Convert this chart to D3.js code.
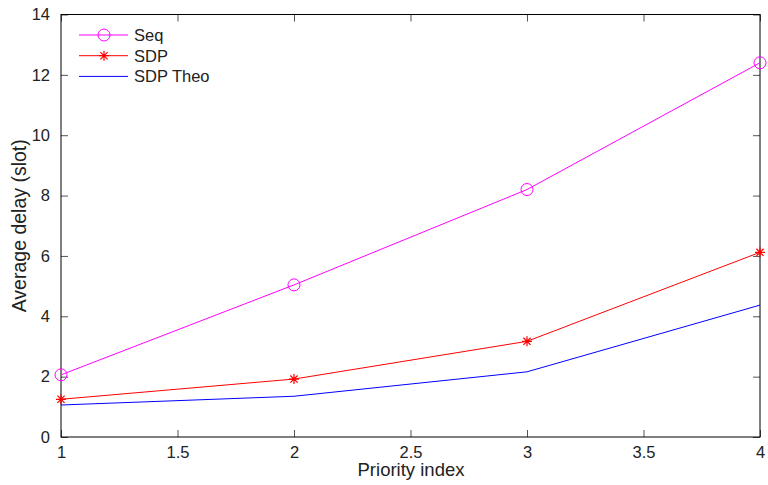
<!DOCTYPE html>
<html><head><meta charset="utf-8">
<script src="https://cdn.jsdelivr.net/npm/d3@7"></script>
<style>body{margin:0;background:#fff}svg{display:block}text{font-family:"Liberation Sans",Arial,sans-serif;fill:#222}</style>
</head><body><svg id="c" width="768" height="485"></svg>
<script>
const priority = [1, 2, 3, 4];
const seq = [2.06, 5.04, 8.2, 12.4];
const sdp = [1.25, 1.92, 3.17, 6.12];
const sdpTheo = [1.06, 1.35, 2.16, 4.37];
const xTicks = [1, 1.5, 2, 2.5, 3, 3.5, 4];
const yTicks = [0, 2, 4, 6, 8, 10, 12, 14];
const seriesNames = ["Seq", "SDP", "SDP Theo"];

const svg = d3.select("#c");
const L = 61, R = 760, T = 14.5, B = 437;
const x = d3.scaleLinear().domain([1, 4]).range([L, R]);
const y = d3.scaleLinear().domain([0, 14]).range([B, T]);

const tickLen = 7;
const gx = svg.append("g").attr("transform", `translate(0,${B})`)
  .call(d3.axisBottom(x).tickValues(xTicks).tickSize(-tickLen).tickPadding(tickLen + 2).tickFormat(d3.format("")));
const gxt = svg.append("g").attr("transform", `translate(0,${T})`)
  .call(d3.axisTop(x).tickValues(xTicks).tickSize(-tickLen).tickFormat(""));
const gy = svg.append("g").attr("transform", `translate(${L},0)`)
  .call(d3.axisLeft(y).tickValues(yTicks).tickSize(-tickLen).tickPadding(tickLen + 4).tickFormat(d3.format("")));
const gyr = svg.append("g").attr("transform", `translate(${R},0)`)
  .call(d3.axisRight(y).tickValues(yTicks).tickSize(-tickLen).tickFormat(""));
[gx, gxt, gy, gyr].forEach(g => {
  g.select(".domain").remove();
  g.selectAll(".tick line").attr("stroke", "#555").attr("stroke-width", 1);
  g.selectAll("text").style("font-size", "16.5px").attr("fill", "#222");
});
svg.append("rect").attr("x", L).attr("y", T).attr("width", R - L).attr("height", B - T)
  .attr("fill", "none").attr("stroke", "#000").attr("stroke-width", 1);

const line = d3.line().x((d, i) => x(priority[i])).y(d => y(d));
const colors = ["#ff00ff", "#ff0000", "#0000ff"];
const data = [seq, sdp, sdpTheo];
data.forEach((s, k) => {
  svg.append("path").datum(s).attr("d", line).attr("fill", "none")
    .attr("stroke", colors[k]).attr("stroke-width", 1);
});

function circle(g, cx, cy) {
  g.append("circle").attr("cx", cx).attr("cy", cy).attr("r", 6)
    .attr("fill", "none").attr("stroke", colors[0]).attr("stroke-width", 1);
}
function star(g, cx, cy) {
  const s = 5, d = 3.6;
  const p = `M${cx - s},${cy}L${cx + s},${cy}M${cx},${cy - s}L${cx},${cy + s}` +
    `M${cx - d},${cy - d}L${cx + d},${cy + d}M${cx - d},${cy + d}L${cx + d},${cy - d}`;
  g.append("path").attr("d", p).attr("stroke", colors[1]).attr("stroke-width", 1.2).attr("fill", "none");
}
const mg = svg.append("g");
seq.forEach((v, i) => circle(mg, x(priority[i]), y(v)));
sdp.forEach((v, i) => star(mg, x(priority[i]), y(v)));

// legend
const lg = svg.append("g");
seriesNames.forEach((n, k) => {
  const ly = 35 + k * 20.7;
  lg.append("line").attr("x1", 79).attr("x2", 128).attr("y1", ly).attr("y2", ly)
    .attr("stroke", colors[k]).attr("stroke-width", 1);
  if (k === 0) circle(lg, 104, ly);
  if (k === 1) star(lg, 104, ly);
  lg.append("text").attr("x", 134).attr("y", ly + 6).style("font-size", "16.5px").text(n);
});

svg.append("text").attr("x", 411).attr("y", 476).attr("text-anchor", "middle")
  .style("font-size", "18.5px").text("Priority index");
svg.append("text").attr("transform", `translate(26,${(T + B) / 2}) rotate(-90)`)
  .attr("text-anchor", "middle").style("font-size", "19.5px").text("Average delay (slot)");
</script></body></html>
